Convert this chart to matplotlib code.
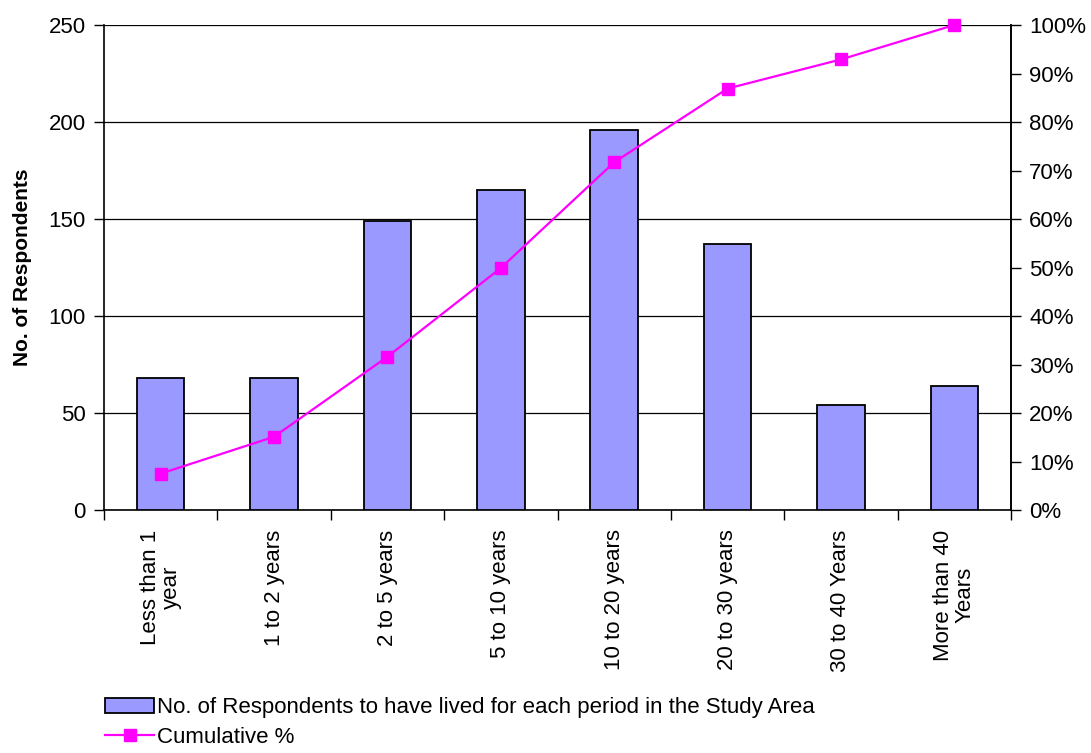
import matplotlib.pyplot as plt
import numpy as np
from matplotlib.ticker import MultipleLocator, FixedLocator

plt.rcParams['font.family'] = ['Liberation Sans', 'DejaVu Sans']

periods = ['Less than 1\nyear', '1 to 2 years', '2 to 5 years', '5 to 10 years',
           '10 to 20 years', '20 to 30 years', '30 to 40 Years', 'More than 40\nYears']
respondents = [68, 68, 149, 165, 196, 137, 54, 64]
cumulative_pct = [7.5, 15.1, 31.6, 49.9, 71.7, 86.9, 92.9, 100.0]

fig = plt.figure(figsize=(10.91, 7.53), dpi=100)
ax = fig.add_axes([0.0953, 0.3227, 0.8314, 0.6441])
x = np.arange(len(periods))

ax.bar(x, respondents, width=0.42, color='#9999FF', edgecolor='black', linewidth=1.3,
       label='No. of Respondents to have lived for each period in the Study Area', zorder=3)
ax.set_xlim(-0.5, len(periods) - 0.5)
ax.set_ylim(0, 250)
ax.yaxis.set_major_locator(MultipleLocator(50))
ax.grid(axis='y', color='black', linewidth=0.9, zorder=0)
ax.set_ylabel('No. of Respondents', fontsize=15, fontweight='bold', labelpad=12)

ax.set_xticks(x)
ax.set_xticklabels(periods, rotation=90, fontsize=16, va='top', ha='center',
                   multialignment='center', linespacing=1.0)
ax.xaxis.set_minor_locator(FixedLocator(np.arange(-0.5, len(periods), 1.0)))
ax.tick_params(axis='x', which='major', length=0, pad=14)
ax.tick_params(axis='x', which='minor', length=7, width=1, direction='out')
ax.tick_params(axis='y', labelsize=16, length=7, width=1, direction='out', pad=6)
ax.spines['top'].set_visible(False)
for s in ['left', 'bottom', 'right']:
    ax.spines[s].set_linewidth(1.2)

ax2 = ax.twinx()
ax2.plot(x, cumulative_pct, color='#FF00FF', linewidth=1.6, marker='s', markersize=8.5,
         label='Cumulative %', zorder=4, clip_on=False)
ax2.set_ylim(0, 100)
ax2.yaxis.set_major_locator(MultipleLocator(10))
ax2.set_yticklabels([f'{int(v)}%' for v in ax2.get_yticks()])
ax2.tick_params(axis='y', labelsize=16, length=7, width=1, direction='out', pad=6)
ax2.spines['top'].set_visible(False)
ax2.spines['right'].set_linewidth(1.2)
ax2.spines['left'].set_visible(False)
ax2.spines['bottom'].set_visible(False)

h1, l1 = ax.get_legend_handles_labels()
h2, l2 = ax2.get_legend_handles_labels()
fig.legend(h1 + h2, l1 + l2, loc='lower left', bbox_to_anchor=(0.078, -0.02),
           frameon=False, fontsize=16, handlelength=2.2, handletextpad=0.15,
           labelspacing=0.4)

fig.savefig('out.png', dpi=100)
